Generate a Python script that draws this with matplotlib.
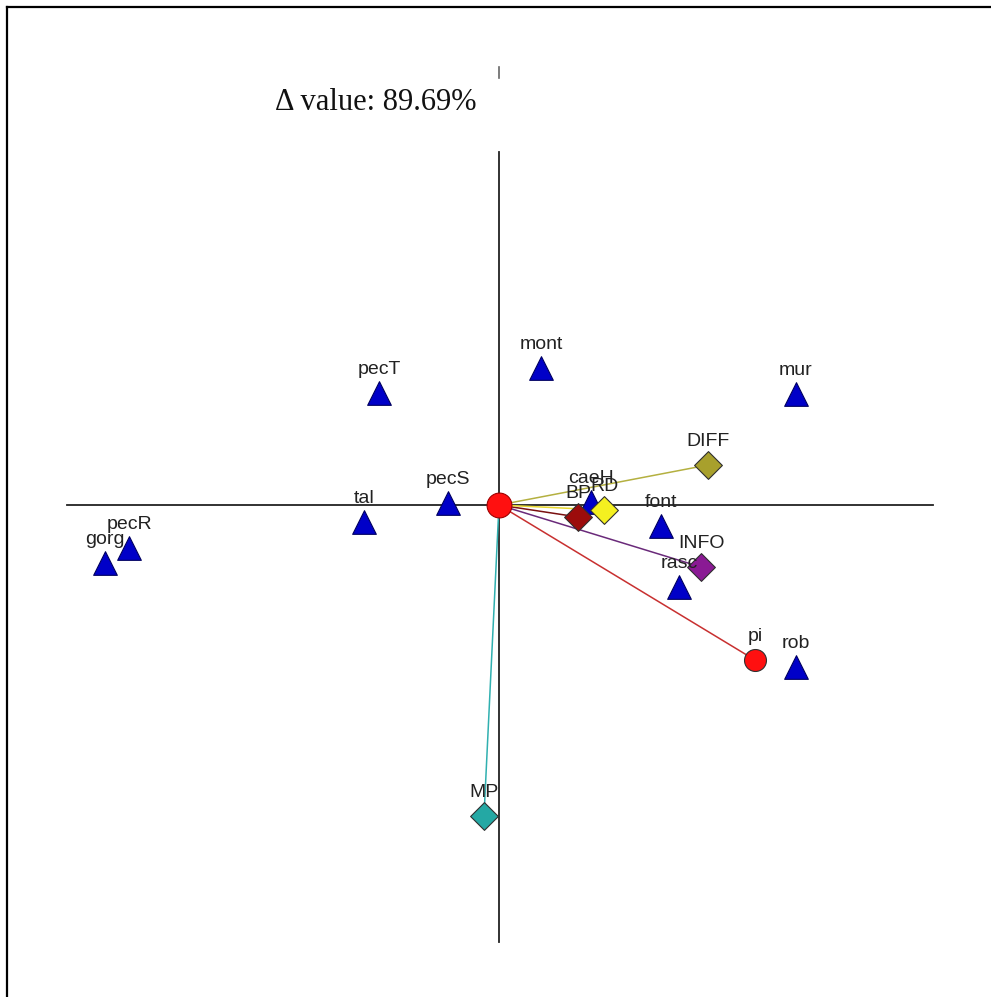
import matplotlib
matplotlib.use("Agg")
import matplotlib.pyplot as plt
from matplotlib.lines import Line2D

# pontos das espécies (triângulos azuis)
especies = ["mont", "pecT", "mur", "pecS", "tal", "pecR", "gorg", "caeH", "font", "rasc", "rob"]
esp_x = [0.42, -1.20, 2.97, -0.51, -1.35, -3.70, -3.94, 0.92, 1.62, 1.80, 2.97]
esp_y = [1.37, 1.12, 1.11, 0.02, -0.17, -0.43, -0.58, 0.03, -0.21, -0.82, -1.62]

# variáveis (vetores a partir da origem)
variaveis = ["DIFF", "BP", "RD", "INFO", "pi", "MP"]
var_x = [2.09, 0.79, 1.05, 2.02, 2.56, -0.15]
var_y = [0.40, -0.12, -0.05, -0.62, -1.55, -3.11]
var_marcador = ["D", "D", "D", "D", "o", "D"]
var_cor = ["#a8a02c", "#9c0c0c", "#f4f020", "#8a1a94", "#ff1010", "#24a8a4"]
var_linha = ["#b4b040", "#7a1010", "#e8d830", "#6a2a7a", "#c83030", "#30b0b0"]

titulo = "\u0394 value: 89.69%"

fig = plt.figure(figsize=(9.91, 9.97), dpi=100)
ax = fig.add_axes([0, 0, 1, 1])
ax.set_xlim(-4.99, 4.92)
ax.set_ylim(-4.92, 5.05)
ax.axis("off")

# eixos do biplot
ax.plot([-4.32, 4.34], [0, 0], color="#222222", lw=1.3, zorder=1)
ax.plot([0, 0], [3.53, -4.37], color="#222222", lw=1.3, zorder=1)
ax.plot([0, 0], [4.38, 4.27], color="#666666", lw=1.2, zorder=1)

for x, y, cl in zip(var_x, var_y, var_linha):
    ax.plot([0, x], [0, y], color=cl, lw=1.1, zorder=2)

ax.scatter(esp_x, esp_y, marker="^", s=290, color="#0000c8",
           edgecolors="#000060", linewidths=0.8, zorder=3)
for nome, x, y in zip(especies, esp_x, esp_y):
    ax.annotate(nome, (x, y), xytext=(0, 19), textcoords="offset pixels",
                ha="center", va="baseline", fontsize=14,
                family="Liberation Sans", color="#222222", zorder=5)

for nome, x, y, m, c in zip(variaveis, var_x, var_y, var_marcador, var_cor):
    tam = 250 if m == "o" else 200
    ax.scatter([x], [y], marker=m, s=tam, color=c, edgecolors="#303030",
               linewidths=0.8, zorder=4)
    ax.annotate(nome, (x, y), xytext=(0, 19), textcoords="offset pixels",
                ha="center", va="baseline", fontsize=14,
                family="Liberation Sans", color="#222222", zorder=5)

# origem
ax.scatter([0], [0], marker="o", s=320, color="#ff1010",
           edgecolors="#a00000", linewidths=0.8, zorder=4)

ax.text(-0.23, 4.02, titulo, ha="right", va="center", fontsize=22,
        family="Liberation Serif", color="#111111")

# moldura (só esquerda e topo aparecem)
fig.add_artist(Line2D([0.0075, 0.0075], [0, 0.993], color="black", lw=1.6))
fig.add_artist(Line2D([0.0075, 1], [0.993, 0.993], color="black", lw=1.6))

fig.savefig("out.png", dpi=100, facecolor="white")
